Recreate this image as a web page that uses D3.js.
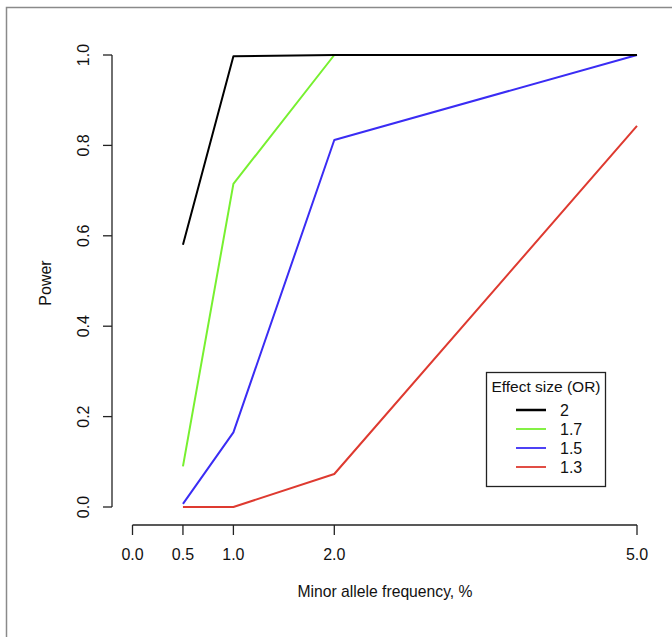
<!DOCTYPE html>
<html>
<head>
<meta charset="utf-8">
<script src="https://cdn.jsdelivr.net/npm/d3@7"></script>
<style>
  body { margin: 0; background: #fff; }
  svg { display: block; font-family: "Liberation Sans", Arial, sans-serif; }
</style>
</head>
<body>
<div id="chart"></div>
<script>
// data
const freqs = [0.5, 1.0, 2.0, 5.0];
const effectSizes = ["2", "1.7", "1.5", "1.3"];
const power2 = [0.58, 0.997, 1.0, 1.0];
const power17 = [0.09, 0.715, 1.0, 1.0];
const power15 = [0.007, 0.165, 0.812, 1.0];
const power13 = [0.0, 0.0, 0.073, 0.843];
const xTicks = [0.0, 0.5, 1.0, 2.0, 5.0];
const yTicks = [0.0, 0.2, 0.4, 0.6, 0.8, 1.0];
const colors = ["#000000", "#77f030", "#3a2cf4", "#de3a30"];

const series = [power2, power17, power15, power13].map((vals, i) => ({
  name: effectSizes[i],
  color: colors[i],
  values: vals.map((v, j) => ({ x: freqs[j], y: v }))
}));

const width = 672, height = 637;
const svg = d3.select("#chart").append("svg")
  .attr("width", width)
  .attr("height", height);

// frame around the figure (only top and left edge visible)
svg.append("path")
  .attr("d", "M6.5,637V7.5H672")
  .attr("fill", "none")
  .attr("stroke", "#8a8a8a")
  .attr("stroke-width", 1.5);

const x = d3.scaleLinear().domain([0, 5]).range([132.5, 637]);
const y = d3.scaleLinear().domain([0, 1]).range([507, 55]);

// y axis, R style: line spans ticks, labels rotated
const yAxis = svg.append("g").attr("transform", "translate(112,0)");
yAxis.append("line")
  .attr("y1", y(0)).attr("y2", y(1))
  .attr("stroke", "#222").attr("stroke-width", 1.3);
yAxis.selectAll(".tick").data(yTicks).enter().append("line")
  .attr("x1", -9).attr("x2", 0)
  .attr("y1", d => y(d)).attr("y2", d => y(d))
  .attr("stroke", "#222").attr("stroke-width", 1.3);
yAxis.selectAll("text").data(yTicks).enter().append("text")
  .attr("transform", d => `translate(-29,${y(d)}) rotate(-90)`)
  .attr("text-anchor", "middle")
  .attr("dy", "0.35em")
  .attr("font-size", 16)
  .attr("fill", "#111")
  .text(d => d.toFixed(1));

// x axis
const xAxis = svg.append("g").attr("transform", "translate(0,525)");
xAxis.append("line")
  .attr("x1", x(0)).attr("x2", x(5))
  .attr("stroke", "#222").attr("stroke-width", 1.3);
xAxis.selectAll(".tick").data(xTicks).enter().append("line")
  .attr("x1", d => x(d)).attr("x2", d => x(d))
  .attr("y1", 0).attr("y2", 10)
  .attr("stroke", "#222").attr("stroke-width", 1.3);
xAxis.selectAll("text").data(xTicks).enter().append("text")
  .attr("x", d => x(d))
  .attr("y", 35)
  .attr("text-anchor", "middle")
  .attr("font-size", 16)
  .attr("fill", "#111")
  .text(d => d.toFixed(1));

// axis titles
svg.append("text")
  .attr("transform", "translate(45.5,283) rotate(-90)")
  .attr("text-anchor", "middle")
  .attr("dy", "0.35em")
  .attr("font-size", 16)
  .attr("fill", "#111")
  .text("Power");
svg.append("text")
  .attr("x", 385).attr("y", 597)
  .attr("text-anchor", "middle")
  .attr("font-size", 15.7)
  .attr("fill", "#111")
  .text("Minor allele frequency, %");

// lines
const line = d3.line().x(d => x(d.x)).y(d => y(d.y));
svg.append("g").selectAll("path")
  .data(series.slice().reverse())
  .enter().append("path")
  .attr("d", d => line(d.values))
  .attr("fill", "none")
  .attr("stroke", d => d.color)
  .attr("stroke-width", 2)
  .attr("stroke-linejoin", "round");

// legend
const legend = svg.append("g").attr("transform", "translate(486,372)");
legend.append("rect")
  .attr("x", 0.5).attr("y", 0.5)
  .attr("width", 119).attr("height", 114)
  .attr("fill", "#fff")
  .attr("stroke", "#222").attr("stroke-width", 1.3);
legend.append("text")
  .attr("x", 60).attr("y", 20)
  .attr("text-anchor", "middle")
  .attr("font-size", 15.5)
  .attr("fill", "#111")
  .text("Effect size (OR)");
const items = legend.selectAll(".item").data(series).enter().append("g")
  .attr("transform", (d, i) => `translate(0,${38 + i * 19})`);
items.append("line")
  .attr("x1", 30).attr("x2", 60)
  .attr("stroke", d => d.color)
  .attr("stroke-width", d => d.name === "2" ? 2.5 : 1.8);
items.append("text")
  .attr("x", 74)
  .attr("dy", "0.35em")
  .attr("font-size", 16)
  .attr("fill", "#111")
  .text(d => d.name);
</script>
</body>
</html>
